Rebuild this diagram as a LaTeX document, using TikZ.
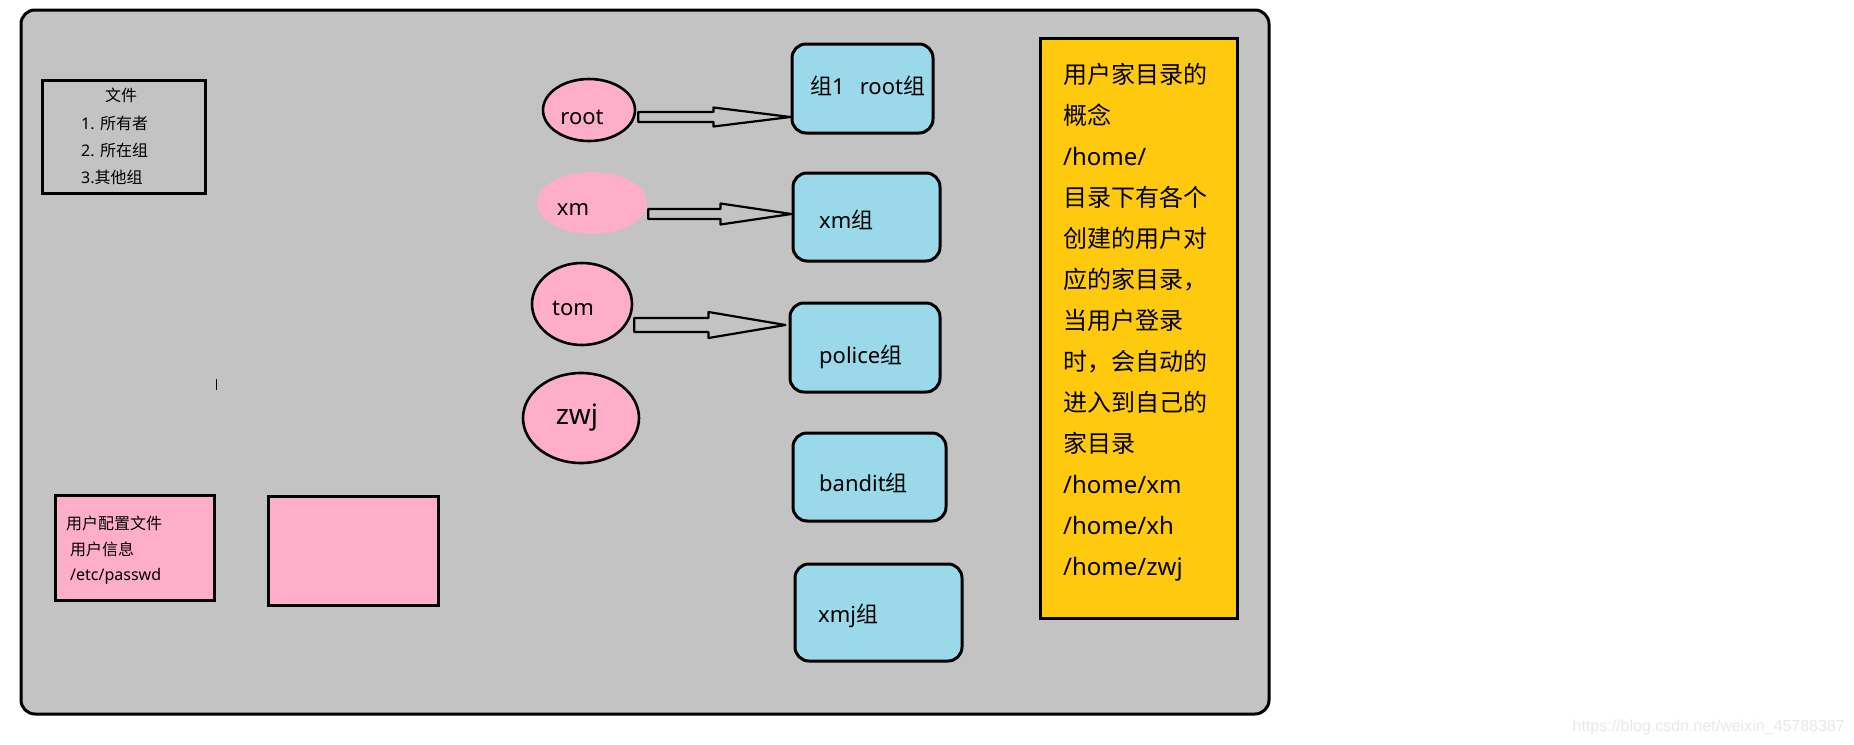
\documentclass[tikz,border=0pt]{standalone}
\usepackage{fontspec}
\setmainfont{Noto Sans CJK SC}
\newfontfamily\latnfont{Noto Sans}
\newfontfamily\markfont{Liberation Sans}
\newcommand\latn[1]{{\latnfont #1}}
\usetikzlibrary{shapes.geometric,calc}

\definecolor{panel}{RGB}{195,195,195}
\definecolor{userpink}{RGB}{255,174,201}
\definecolor{groupblue}{RGB}{153,217,234}
\definecolor{notegold}{RGB}{255,201,14}
\definecolor{marktext}{RGB}{232,232,232}

% hollow block arrow: start, tip, shaft half-width, head half-width, head length
\newcommand\hollowarrow[5]{%
  \draw[hollow arrow] let \p1=(#1), \p2=(#2) in
    (\x1,\y1+#3pt) -- (\x2-#5pt,\y1+#3pt) -- (\x2-#5pt,\y1+#4pt) -- (\x2,\y2)
    -- (\x2-#5pt,\y1-#4pt) -- (\x2-#5pt,\y1-#3pt) -- (\x1,\y1-#3pt) -- cycle;}

\tikzset{
  frame box/.style={draw, line width=3pt, fill=panel, rounded corners=14pt, inner sep=0pt},
  plain box/.style={draw, line width=3pt, inner sep=0pt},
  user/.style={ellipse, fill=userpink, draw, line width=2.6pt, inner sep=0pt},
  user nb/.style={ellipse, fill=userpink, inner sep=0pt},
  group/.style={draw, line width=3pt, fill=groupblue, rounded corners=14pt, inner sep=0pt},
  lbl/.style={inner sep=0pt, text height=1.5ex, text depth=.25ex, font=\fontsize{22}{26}\selectfont},
  small/.style={inner sep=0pt, align=left, font=\fontsize{16}{#1}\selectfont},
  hollow arrow/.style={draw, line width=2.2pt, line join=round},
}

\begin{document}
\begin{tikzpicture}[x=1pt,y=-1pt]
\useasboundingbox (0,0) rectangle (1854,744);
\fill[white] (0,0) rectangle (1854,744);

% outer panel
\node[frame box, minimum width=1248pt, minimum height=704pt] (frame) at (645,362) {};

% file permissions box
\node[plain box, minimum width=163pt, minimum height=113pt] (filebox) at (123.5,136.5) {};
\node[small=20] (filetitle) at (121,95) {文件};
\node[small=27, anchor=west] (filelist) at (81,150)
  {\latn{1. }所有者\\\latn{2. }所在组\\\latn{3.}其他组};

% stray mark
\draw[line width=1.8pt] (216.5,379) -- (216.5,390);

% user config boxes
\node[plain box, fill=userpink, minimum width=159pt, minimum height=105pt] (passwd) at (134.5,547.5) {};
\node[small=25.5, anchor=west] (passwdtext) at (66,550.5)
  {用户配置文件\\\hspace*{4pt}用户信息\\\hspace*{4pt}\latn{/etc/passwd}};
\node[plain box, fill=userpink, minimum width=170pt, minimum height=109pt] (blank) at (353,550.5) {};

% users
\node[user, minimum width=92pt, minimum height=62pt] (root) at (589,110) {};
\node[user nb, minimum width=110pt, minimum height=62pt] (xm) at (592,203) {};
\node[user, minimum width=100pt, minimum height=82pt] (tom) at (582,304) {};
\node[user, minimum width=116pt, minimum height=90pt] (zwj) at (581,418) {};
\node[lbl] (rootl) at (582,121) {\latn{root}};
\node[lbl] (xml) at (573,212) {\latn{xm}};
\node[lbl] (toml) at (573,312) {\latn{tom}};
\node[lbl, font=\fontsize{28}{32}\selectfont] (zwjl) at (577,421) {\latn{zwj}};

% groups
\node[group, minimum width=141pt, minimum height=89pt] (g1) at (862.5,88.5) {};
\node[group, minimum width=147pt, minimum height=88pt] (g2) at (866.5,217) {};
\node[group, minimum width=150pt, minimum height=89pt] (g3) at (865,347.5) {};
\node[group, minimum width=153pt, minimum height=88pt] (g4) at (869.5,477) {};
\node[group, minimum width=167pt, minimum height=97pt] (g5) at (878.5,612.5) {};
\node[lbl, anchor=west] (g1l) at (810,91) {组\latn{1}\hspace{15pt}\latn{root}组};
\node[lbl, anchor=west] (g2l) at (819,225) {\latn{xm}组};
\node[lbl, anchor=west] (g3l) at (819,360) {\latn{police}组};
\node[lbl, anchor=west] (g4l) at (819,488) {\latn{bandit}组};
\node[lbl, anchor=west] (g5l) at (818,619) {\latn{xmj}组};

% membership arrows
\coordinate (a1s) at ($(root.east)+(2,7)$);
\coordinate (a1t) at (g1.west |- a1s);
\coordinate (a2s) at ($(xm.east)+(1,11)$);
\coordinate (a2t) at (g2.west |- a2s);
\coordinate (a3s) at ($(tom.east)+(1,21)$);
\coordinate (a3t) at ($(g3.west |- a3s)+(-3,0)$);
\hollowarrow{a1s}{a1t}{5}{9.5}{77}
\hollowarrow{a2s}{a2t}{5}{10.5}{71}
\hollowarrow{a3s}{a3t}{7}{13}{77}

% home directory note
\node[plain box, fill=notegold, minimum width=197pt, minimum height=580pt] (note) at (1138.5,328) {};
\node[inner sep=0pt, align=left, anchor=west, font=\fontsize{24}{41}\selectfont] (notetext) at (1063,322)
  {用户家目录的\\概念\\\latn{/home/}\\目录下有各个\\创建的用户对\\应的家目录，\\当用户登录\\时，会自动的\\进入到自己的\\家目录\\\latn{/home/xm}\\\latn{/home/xh}\\\latn{/home/zwj}};

% source mark
\node[inner sep=0pt, anchor=base east, text=marktext, font=\markfont\fontsize{16}{18}\selectfont] (mark) at (1845,731) {https://blog.csdn.net/weixin\_45788387};
\end{tikzpicture}
\end{document}
